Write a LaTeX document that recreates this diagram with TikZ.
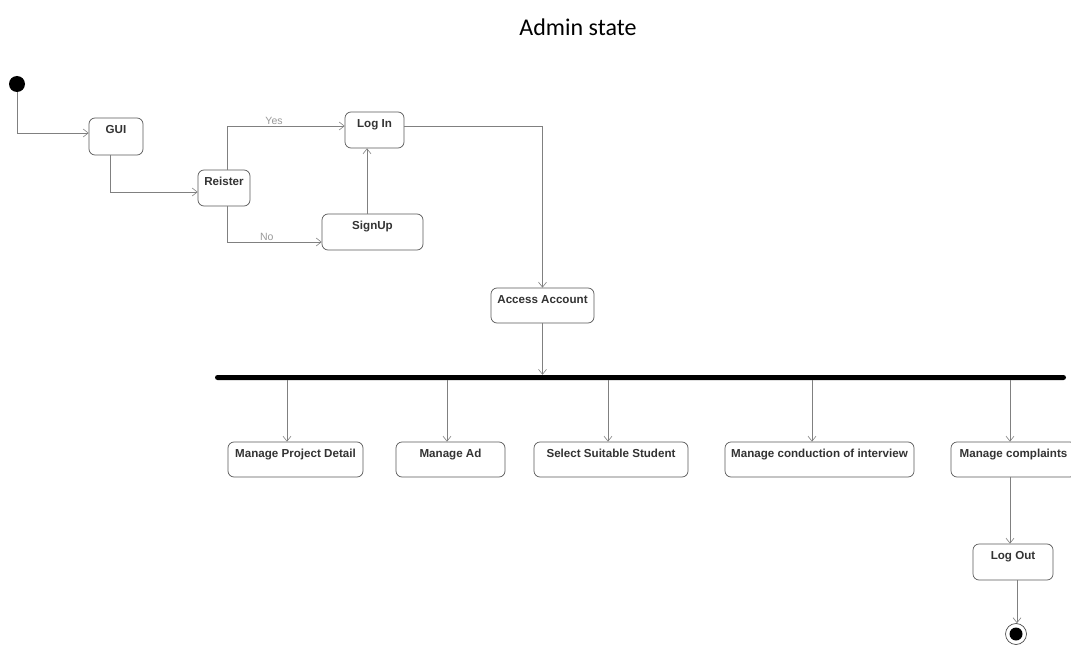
\documentclass[tikz,border=0pt]{standalone}
\usepackage{fontspec}
\setmainfont{Liberation Sans}
\newfontfamily\titlefont{Carlito}
\usetikzlibrary{arrows.meta}
\begin{document}
\begin{tikzpicture}[x=1pt,y=-1pt,
  state/.style={draw=black!65, line width=0.7pt, rounded corners=6pt, inner sep=0pt},
  lbl/.style={anchor=north, yshift=-5.5pt, inner sep=2pt, font=\fontsize{11.6}{13}\selectfont\bfseries, text=black!80},
  flow/.style={draw=black!50, line width=0.6pt, -{Straight Barb[length=5pt,width=8pt]}},
  guard/.style={font=\fontsize{10.5}{12}\selectfont, text=black!40, inner sep=1pt}]
\clip (0,0) rectangle (1071,650);
\fill[white] (0,0) rectangle (1071,650);

% title
\node[font=\titlefont\fontsize{24}{28}\selectfont] (title) at (578,27) {Admin state};

% initial and final states
\node[circle, fill=black, minimum size=16pt, inner sep=0pt] (init) at (17,84) {};
\node[circle, draw=black!70, line width=0.7pt, minimum size=21pt, inner sep=0pt] (fin) at (1016,634) {};
\node[circle, fill=black, minimum size=13pt, inner sep=0pt] (finc) at (1016,634) {};

% upper states
\node[state, minimum width=54pt, minimum height=37pt, label={[lbl]north:GUI}] (gui) at (116,136.5) {};
\node[state, minimum width=52pt, minimum height=36pt, label={[lbl]north:Reister}] (reister) at (224,188) {};
\node[state, minimum width=59pt, minimum height=36pt, label={[lbl]north:Log In}] (login) at (374.5,130) {};
\node[state, minimum width=101pt, minimum height=36pt, label={[lbl]north:SignUp}] (signup) at (372.5,232) {};
\node[state, minimum width=103pt, minimum height=35pt, label={[lbl]north:Access Account}] (access) at (542.5,305.5) {};

% fork bar
\node[fill=black, rounded corners=2.5pt, minimum width=851pt, minimum height=5pt, inner sep=0pt] (bar) at (640.5,377.5) {};

% parallel activities
\node[state, minimum width=135pt, minimum height=35pt, label={[lbl]north:Manage Project Detail}] (mpd) at (295.5,459.5) {};
\node[state, minimum width=109pt, minimum height=35pt, label={[lbl]north:Manage Ad}] (mad) at (450.5,459.5) {};
\node[state, minimum width=154pt, minimum height=35pt, label={[lbl]north:Select Suitable Student}] (sss) at (611,459.5) {};
\node[state, minimum width=189pt, minimum height=35pt, label={[lbl]north:Manage conduction of interview}] (mci) at (819.5,459.5) {};
\node[state, minimum width=125pt, minimum height=35pt, label={[lbl]north:Manage complaints}] (mcp) at (1013.5,459.5) {};
\node[state, minimum width=80pt, minimum height=36pt, label={[lbl]north:Log Out}] (logout) at (1013,562) {};

% branch points on the bar
\coordinate (b1) at (287,380);
\coordinate (b2) at (447,380);
\coordinate (b3) at (608,380);
\coordinate (b4) at (812,380);
\coordinate (b5) at (1010,380);

% transitions
\draw[flow] (init) |- ([yshift=3.5pt]gui.west);
\draw[flow] ([xshift=-6pt]gui.south) |- ([yshift=-4pt]reister.west);
\draw[flow] ([xshift=3pt]reister.north) |- node[guard, pos=0.7, above] {Yes} ([yshift=4pt]login.west);
\draw[flow] ([xshift=3pt]reister.south) |- node[guard, pos=0.71, above] {No} ([yshift=-10pt]signup.west);
\draw[flow] ([xshift=-5.5pt]signup.north) -- ([xshift=-5.5pt]signup.north |- login.south);
\draw[flow] ([yshift=4pt]login.east) -| (access.north);
\draw[flow] (access.south) -- (access.south |- bar.north);
\draw[flow] (b1) -- (b1 |- mpd.north);
\draw[flow] (b2) -- (b2 |- mad.north);
\draw[flow] (b3) -- (b3 |- sss.north);
\draw[flow] (b4) -- (b4 |- mci.north);
\draw[flow] (b5) -- (b5 |- mcp.north);
\draw[flow] ([xshift=-3.5pt]mcp.south) -- ([xshift=-3.5pt]mcp.south |- logout.north);
\draw[flow] ([xshift=4pt]logout.south) -- ([xshift=4pt]logout.south |- fin.north);
\end{tikzpicture}
\end{document}
